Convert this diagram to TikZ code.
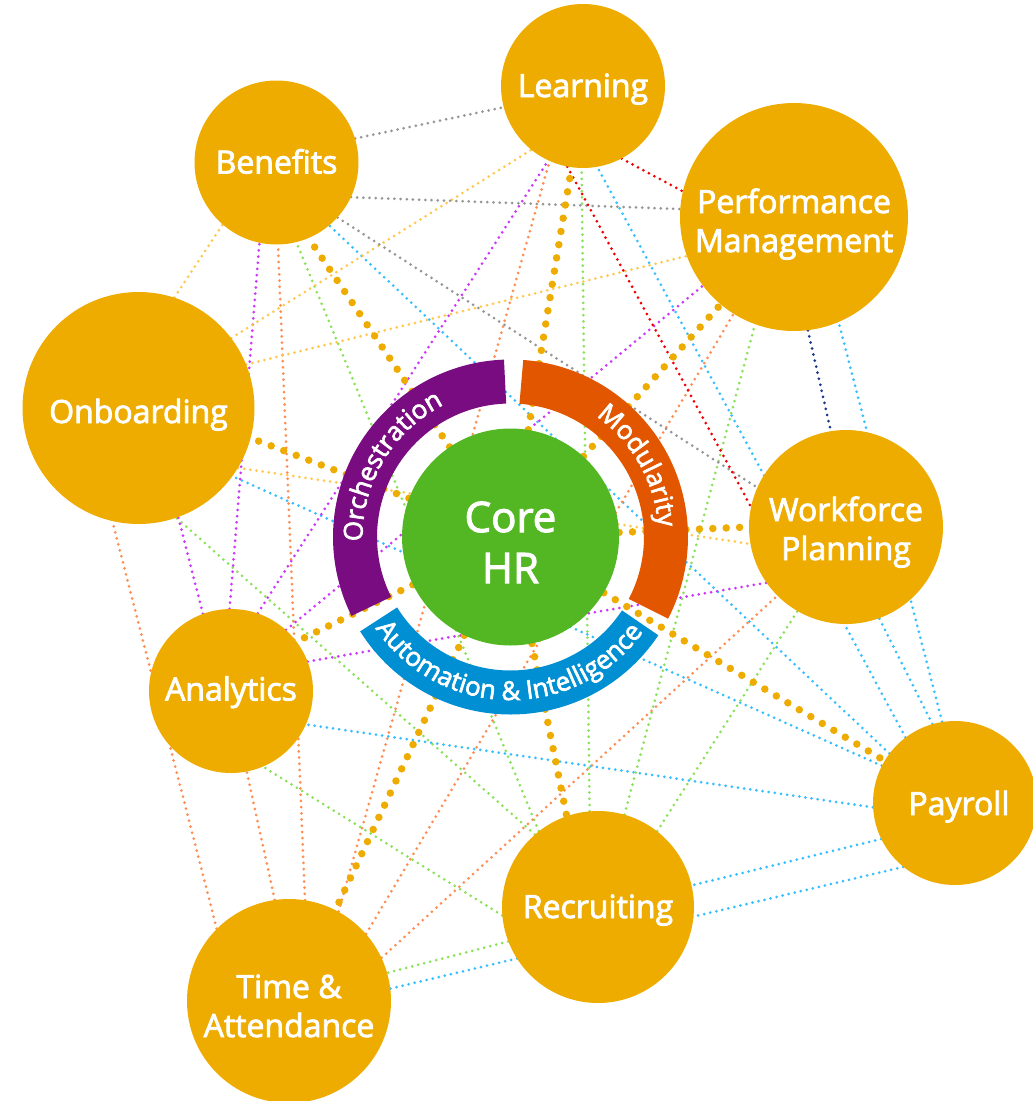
\documentclass[tikz,border=0pt]{standalone}
\usepackage{fontspec}
\setmainfont{Open Sans}
\newfontfamily\hrfont{Open Sans}[FakeBold=2.5]
\usepackage{xcolor}
\usetikzlibrary{backgrounds}
\usetikzlibrary{decorations.text}

\definecolor{hrgold}{RGB}{238,172,0}
\definecolor{coregreen}{RGB}{82,183,34}
\definecolor{orchpurple}{RGB}{120,12,128}
\definecolor{modorange}{RGB}{226,86,0}
\definecolor{autoblue}{RGB}{0,143,211}

\definecolor{linkgray}{RGB}{150,150,150}
\definecolor{linkred}{RGB}{240,0,0}
\definecolor{linknavy}{RGB}{25,55,140}
\definecolor{linkyellow}{RGB}{255,200,80}
\definecolor{linkmagenta}{RGB}{205,55,250}
\definecolor{linksalmon}{RGB}{255,140,80}
\definecolor{linkgreen}{RGB}{140,225,90}
\definecolor{linkblue}{RGB}{55,190,255}

\newcommand{\ringfont}{\hrfont\fontsize{26}{26}\selectfont\color{white}}

\begin{document}
\begin{tikzpicture}[x=1pt,y=-1pt,
   hrnode/.style={circle,fill=hrgold,text=white,inner sep=0pt,align=center,
                  text height=22pt,text depth=0pt,
                  font=\hrfont\fontsize{32}{39}\selectfont},
   link/.style={draw,line width=3pt,line cap=round,dash pattern=on 0pt off 6.2pt},
   spoke/.style={draw=hrgold,line width=7.5pt,line cap=round,dash pattern=on 0pt off 13.4pt},
   band/.style={line width=44pt},
   bandtext/.style={decorate,decoration={text along path,text align=center,
                    text={|\ringfont|#1}}}]

\useasboundingbox (0,0) rectangle (1033,1101);

% modules
\begin{scope}[every node/.style={hrnode}]
   \node[minimum size=164pt] (learning) at (583,86) {Learning};
   \node[minimum size=164pt] (benefits) at (276.5,162.5) {Benefits};
   \node[minimum size=228pt,text height=70pt] (perf) at (794,217) {Performance\\Management};
   \node[minimum size=232pt,text height=30pt] (onboarding) at (138.5,408) {Onboarding};
   \node[minimum size=194pt,text height=66pt] (workforce) at (846,527) {Workforce\\Planning};
   \node[minimum size=164pt,text height=19pt] (analytics) at (231,691) {Analytics};
   \node[minimum size=164pt,text height=24pt] (payroll) at (955,803) {\hspace*{8pt}Payroll};
   \node[minimum size=192pt] (recruiting) at (598,907) {Recruiting};
   \node[minimum size=204pt,text height=72pt] (timeatt) at (289,1001) {Time \&\\Attendance};
\end{scope}

\node[circle,fill=coregreen,text=white,inner sep=0pt,minimum size=217pt,align=center,
      text height=92pt,text depth=0pt,
      font=\hrfont\fontsize{42}{51}\selectfont] (core) at (510.5,537) {Core\\HR};

\begin{scope}[on background layer]
   % payroll
   \begin{scope}[every edge/.style={link,linkblue}]
      \path (payroll.206) edge (recruiting.13);
      \path (payroll.231) edge (timeatt.7);
      \path (payroll.183) edge (analytics.-24);
      \path (payroll.153) edge (onboarding.-36);
      \path (payroll.143) edge (benefits.-50);
      \path (payroll.127) edge (learning.-80);
      \path (payroll.106) edge (workforce.-70);
      \path (payroll.99) edge (perf.-67);
   \end{scope}
   % recruiting
   \begin{scope}[every edge/.style={link,linkgreen}]
      \path (recruiting.201) edge (timeatt.16);
      \path (recruiting.185) edge (analytics.-67);
      \path (recruiting.131) edge (onboarding.-71);
      \path (recruiting.128) edge (benefits.-76);
      \path (recruiting.95) edge (learning.-91);
      \path (recruiting.74) edge (perf.250);
      \path (recruiting.52) edge (workforce.240);
   \end{scope}
   % time & attendance
   \begin{scope}[every edge/.style={link,linksalmon}]
      \path (timeatt.98) edge (analytics.-79);
      \path (timeatt.135) edge (onboarding.257);
      \path (timeatt.81) edge (benefits.-89);
      \path (timeatt.61) edge (learning.246);
      \path (timeatt.41) edge (perf.238);
      \path (timeatt.25) edge (workforce.225);
   \end{scope}
   % analytics
   \begin{scope}[every edge/.style={link,linkmagenta}]
      \path (analytics.110) edge (onboarding.-70);
      \path (analytics.91) edge (benefits.258);
      \path (analytics.71) edge (learning.245);
      \path (analytics.48) edge (perf.217);
      \path (analytics.21) edge (workforce.215);
   \end{scope}
   % onboarding
   \begin{scope}[every edge/.style={link,linkyellow}]
      \path (onboarding.72) edge (benefits.229);
      \path (onboarding.37) edge (learning.231);
      \path (onboarding.22) edge (perf.200);
      \path (onboarding.-31) edge (workforce.190);
   \end{scope}
   % benefits
   \begin{scope}[every edge/.style={link,linkgray}]
      \path (benefits.17) edge (learning.195);
      \path (benefits.-25) edge (perf.176);
      \path (benefits.-42) edge (workforce.156);
   \end{scope}
   % learning, performance
   \path[link,linkred] (learning.-62) edge (perf.167);
   \path[link,linkred] (learning.-101) edge (workforce.168);
   \path[link,linknavy] (perf.-83) edge (workforce.99);

   % core spokes
   \begin{scope}[every edge/.style={spoke}]
      \path (core) edge (benefits.-67);
      \path (core) edge (learning.-98);
      \path (core) edge (perf.-130);
      \path (core) edge (onboarding.-15);
      \path (core) edge (workforce.180);
      \path (core) edge (analytics.37);
      \path (core) edge (payroll.149);
      \path (core) edge (recruiting.109);
      \path (core) edge (timeatt.63);
   \end{scope}
\end{scope}

% ring around the core
\begin{scope}[shift={(core.center)},x=1pt,y=1pt]
   \draw[band,orchpurple] (206.5:155.5) arc[start angle=206.5,end angle=92,radius=155.5];
   \draw[band,modorange] (86:155.5) arc[start angle=86,end angle=-27.5,radius=155.5];
   \draw[band,autoblue] (212:155.5) arc[start angle=212,end angle=326.5,radius=155.5];

   \path[bandtext={Orchestration}] (206.5:148) arc[start angle=206.5,end angle=92,radius=148];
   \path[bandtext={Modularity}] (86:148) arc[start angle=86,end angle=-27.5,radius=148];
   \path[bandtext={Automation {\&} Intelligence}] (212:163) arc[start angle=212,end angle=326.5,radius=163];
\end{scope}
\end{tikzpicture}
\end{document}
